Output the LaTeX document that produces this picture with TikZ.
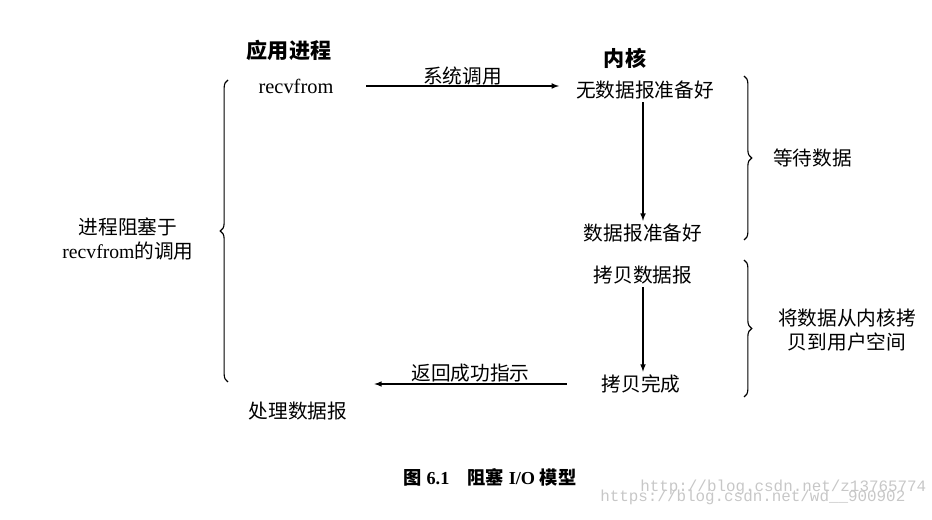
\documentclass[tikz,border=0pt]{standalone}
\usepackage{fontspec}
\setmainfont{Liberation Serif}
\newfontfamily\cjk{Noto Sans CJK SC}
\newfontfamily\wmfont{Liberation Mono}
\usetikzlibrary{decorations.pathreplacing}
\begin{document}
\begin{tikzpicture}[
    txt/.style={font=\cjk\fontsize{14}{17}\selectfont, inner sep=2pt},
    head/.style={font=\cjk\bfseries\fontsize{15}{18}\selectfont},
    lat/.style={font=\fontsize{14.5}{17}\selectfont},
    brc/.style={decorate, decoration={brace, amplitude=5.5pt}, thick},
    wm/.style={text=black!22, anchor=west, inner sep=0pt, font=\wmfont\fontsize{11.3}{13}\selectfont}
]
    \useasboundingbox (0,0) rectangle (23.3,13);
    % the two columns
    \node[head] (app) at (7.225,11.75) {应用进程};
    \node[lat] (recv) at (7.4,10.85) {recvfrom};
    \node[txt] (handle) at (7.45,2.725) {处理数据报};
    \node[head] (kern) at (15.625,11.55) {内核};
    \node[txt] (nodata) at (16.125,10.75) {无数据报准备好};
    \node[txt] (ready) at (16.075,7.175) {数据报准备好};
    \node[txt] (copy) at (16.075,6.125) {拷贝数据报};
    \node[txt] (done) at (16.025,3.4) {拷贝完成};
    % arrows
    \draw[thick,-latex] ([xshift=0.7cm]recv.east) -- node[above, txt, inner sep=0pt] {系统调用} ([xshift=-0.35cm]recv.east -| nodata.west);
    \draw[thick,-latex] (ready.north |- nodata.south) -- (ready.north);
    \draw[thick,-latex] (copy.south) -- (copy.south |- done.north);
    \draw[thick,-latex] ([xshift=-0.8cm]done.west) -- node[above, txt, inner sep=1pt] {返回成功指示} ([xshift=0.6cm]done.west -| handle.east);
    % braces
    \coordinate (b1t) at (18.6,11.1);
    \coordinate (b1b) at (18.6,7.0);
    \coordinate (b2t) at (18.6,6.5);
    \coordinate (b2b) at (18.6,3.075);
    \coordinate (b3t) at (5.7,11.0);
    \coordinate (b3b) at (5.7,3.45);
    \draw[brc] (b1t) -- (b1b);
    \draw[brc] (b2t) -- (b2b);
    \draw[brc] (b3b) -- (b3t);
    \node[txt, anchor=west] (wait) at (19.25,9.05) {等待数据};
    \node[txt, align=center] (move) at (21.175,4.75) {将数据从内核拷\\贝到用户空间};
    \node[txt, align=center] (block) at (3.2,7.025) {进程阻塞于\\{\rmfamily recvfrom}的调用};
    % caption
    \node[font=\fontsize{13}{15}\selectfont\bfseries] (cap) at (12.25,1.075) {{\cjk 图} 6.1\quad {\cjk 阻塞} I/O {\cjk 模型}};
    \node[wm] (wm1) at (16.0,0.825) {http://blog.csdn.net/z13765774};
    \node[wm] (wm2) at (15.0,0.575) {https://blog.csdn.net/wd\_\_900902};
\end{tikzpicture}
\end{document}
